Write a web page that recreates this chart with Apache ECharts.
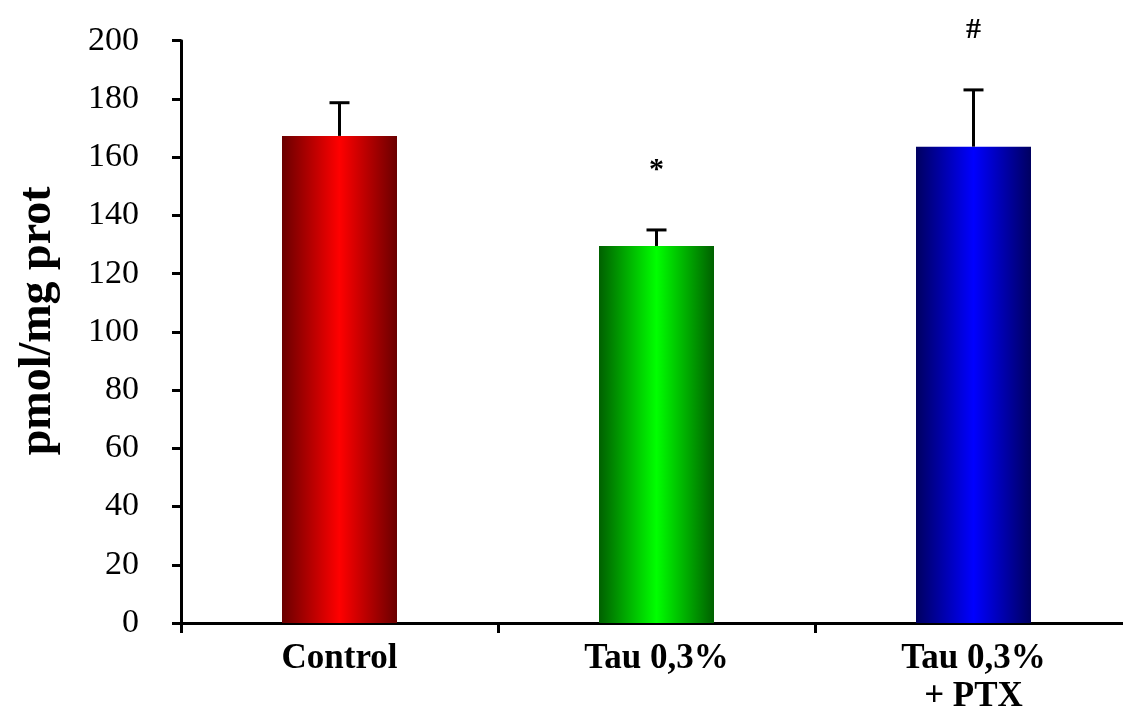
<!DOCTYPE html>
<html>
<head>
<meta charset="utf-8">
<script src="https://cdn.jsdelivr.net/npm/echarts@6/dist/echarts.min.js"></script>
<style>
  html, body { margin: 0; padding: 0; background: #ffffff; overflow: hidden; }
  #chart { width: 1140px; height: 718px; }
</style>
</head>
<body>
<div id="chart"></div>
<script>
// Group names, mean values and upper SEM limits (pmol/mg prot)
const categories = ['Control', 'Tau 0,3%', 'Tau 0,3%\n+ PTX'];
const means = [167.3, 129.5, 163.6];
const errorTops = [178.7, 135.0, 183.1];
const significance = ['', '*', '#'];

// Edge / centre colours for each bar's horizontal shading
const edgeColors = ['#6a0000', '#006000', '#000060'];
const centerColors = ['#ff0000', '#00ff00', '#0000ff'];

const serif = '"Liberation Serif", "DejaVu Serif", serif';

function shade(i) {
  return new echarts.graphic.LinearGradient(0, 0, 1, 0, [
    { offset: 0, color: edgeColors[i] },
    { offset: 0.5, color: centerColors[i] },
    { offset: 1, color: edgeColors[i] }
  ]);
}

const chart = echarts.init(document.getElementById('chart'));

chart.setOption({
  backgroundColor: '#ffffff',
  animation: false,
  grid: { left: 181, right: 8, top: 40.7, bottom: 95 },
  xAxis: {
    type: 'category',
    data: categories,
    axisLine: { lineStyle: { color: '#000', width: 3 } },
    axisTick: { show: true, inside: false, length: 10, lineStyle: { color: '#000', width: 3 } },
    axisLabel: {
      color: '#000', fontFamily: serif, fontWeight: 'bold', fontSize: 35,
      lineHeight: 38, margin: 17, interval: 0
    }
  },
  yAxis: {
    type: 'value',
    min: 0, max: 200, interval: 20,
    name: 'pmol/mg prot',
    nameLocation: 'middle',
    nameRotate: 90,
    nameGap: 120,
    nameTextStyle: {
      color: '#000', fontFamily: serif, fontWeight: 'bold', fontSize: 46,
      padding: [0, 0, 0, 22]
    },
    axisLine: { show: true, lineStyle: { color: '#000', width: 3 } },
    axisTick: { show: true, inside: false, length: 9, lineStyle: { color: '#000', width: 3 } },
    axisLabel: { color: '#000', fontFamily: serif, fontSize: 34, margin: 42 },
    splitLine: { show: false }
  },
  series: [
    {
      type: 'bar',
      barWidth: 115,
      data: means.map((v, i) => ({ value: v, itemStyle: { color: shade(i) } }))
    },
    {
      type: 'custom',
      z: 5,
      data: means.map((v, i) => [i, v, errorTops[i]]),
      renderItem: function (params, api) {
        const i = api.value(0);
        const base = api.coord([i, api.value(1)]);
        const top = api.coord([i, api.value(2)]);
        const capHalf = 10;
        const children = [
          { type: 'line', shape: { x1: base[0], y1: base[1], x2: top[0], y2: top[1] },
            style: { stroke: '#000', lineWidth: 3 } },
          { type: 'line', shape: { x1: top[0] - capHalf, y1: top[1], x2: top[0] + capHalf, y2: top[1] },
            style: { stroke: '#000', lineWidth: 3 } }
        ];
        const mark = significance[params.dataIndex];
        if (mark) {
          children.push({
            type: 'text',
            style: {
              text: mark, x: top[0], y: top[1] - 60,
              align: 'center', verticalAlign: 'middle',
              fill: '#000', font: 'bold 30px ' + serif
            }
          });
        }
        return { type: 'group', children: children };
      }
    }
  ]
});
</script>
</body>
</html>
